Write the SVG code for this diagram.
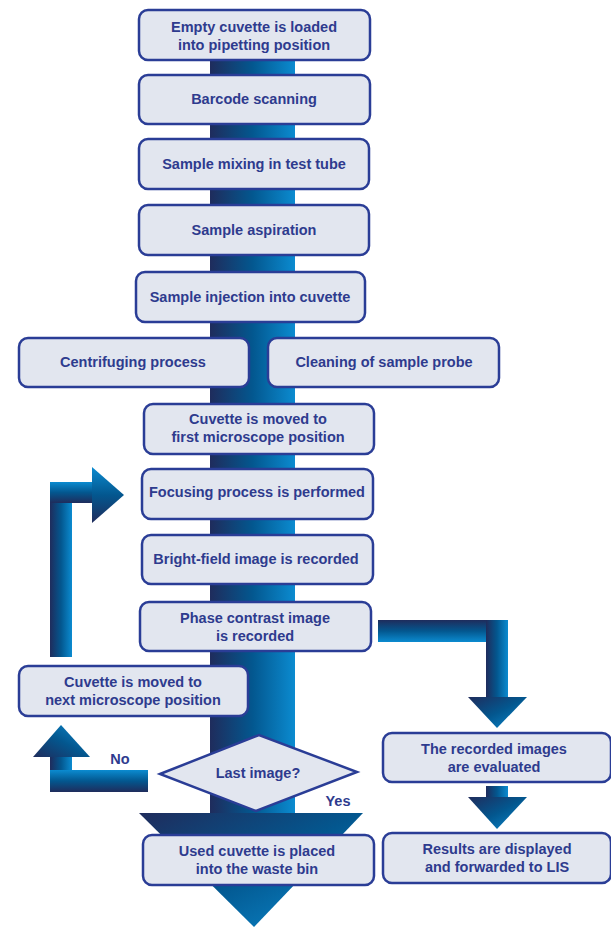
<svg xmlns="http://www.w3.org/2000/svg" width="611" height="927" viewBox="0 0 611 927">
<defs>
<linearGradient id="gh" x1="0" y1="0" x2="1" y2="0">
<stop offset="0" stop-color="#1f2c5c"/><stop offset="0.5" stop-color="#03578f"/><stop offset="1" stop-color="#0b8bd0"/>
</linearGradient>
<linearGradient id="gv" x1="0" y1="0" x2="0" y2="1">
<stop offset="0" stop-color="#1f2c5c"/><stop offset="0.5" stop-color="#03578f"/><stop offset="1" stop-color="#0b8bd0"/>
</linearGradient>
<linearGradient id="gvr" x1="0" y1="1" x2="0" y2="0">
<stop offset="0" stop-color="#1f2c5c"/><stop offset="0.5" stop-color="#03578f"/><stop offset="1" stop-color="#0b8bd0"/>
</linearGradient>
<linearGradient id="gd" x1="0" y1="0" x2="1" y2="1">
<stop offset="0" stop-color="#1f2c5c"/><stop offset="0.5" stop-color="#03578f"/><stop offset="1" stop-color="#0b8bd0"/>
</linearGradient>
<linearGradient id="gd2" x1="0" y1="1" x2="1" y2="0">
<stop offset="0" stop-color="#1f2c5c"/><stop offset="0.5" stop-color="#03578f"/><stop offset="1" stop-color="#0b8bd0"/>
</linearGradient>
</defs>
<style>
.b{fill:#e2e6ef;stroke:#2a3d96;stroke-width:2.5}
.t{font-family:"Liberation Sans",Arial,sans-serif;font-weight:bold;font-size:14.5px;fill:#2e3b8e;text-anchor:middle}
</style>
<g id="connectors">
<rect x="210" y="30" width="85" height="785" fill="url(#gh)"/>
<polygon points="139,813 363,813 254,927" fill="url(#gd)"/>
<rect x="50" y="482" width="22" height="175" fill="url(#gh)"/>
<rect x="50" y="482" width="44" height="21" fill="url(#gvr)"/>
<polygon points="92,467 92,523 124,495" fill="url(#gvr)"/>
<rect x="50" y="752" width="22" height="40" fill="url(#gh)"/>
<rect x="50" y="770" width="98" height="22" fill="url(#gvr)"/>
<polygon points="33,757 90,757 61,725" fill="url(#gd2)"/>
<rect x="378" y="620" width="130" height="22" fill="url(#gv)"/>
<rect x="486" y="620" width="22" height="79" fill="url(#gh)"/>
<polygon points="468,697 527,697 497,728" fill="url(#gd)"/>
<rect x="486" y="786" width="22" height="12" fill="url(#gh)"/>
<polygon points="468,797 527,797 497,829" fill="url(#gd)"/>
<text class="t" x="120" y="764">No</text>
<text class="t" x="338" y="806">Yes</text>
</g>
<g id="n1"><rect class="b" x="139" y="10" width="231" height="50" rx="9"/><text class="t" x="254" y="32">Empty cuvette is loaded</text><text class="t" x="254" y="50">into pipetting position</text></g>
<g id="n2"><rect class="b" x="139" y="75" width="231" height="49" rx="9"/><text class="t" x="254" y="104">Barcode scanning</text></g>
<g id="n3"><rect class="b" x="139" y="139" width="230" height="50" rx="9"/><text class="t" x="254" y="169">Sample mixing in test tube</text></g>
<g id="n4"><rect class="b" x="139" y="205" width="230" height="50" rx="9"/><text class="t" x="254" y="235">Sample aspiration</text></g>
<g id="n5"><rect class="b" x="136" y="272" width="229" height="50" rx="9"/><text class="t" x="250" y="302">Sample injection into cuvette</text></g>
<g id="n6"><rect class="b" x="19" y="338" width="230" height="49" rx="9"/><text class="t" x="133" y="367">Centrifuging process</text></g>
<g id="n7"><rect class="b" x="268" y="338" width="231" height="49" rx="9"/><text class="t" x="384" y="367">Cleaning of sample probe</text></g>
<g id="n8"><rect class="b" x="144" y="404" width="230" height="50" rx="9"/><text class="t" x="258" y="424">Cuvette is moved to</text><text class="t" x="258" y="442">first microscope position</text></g>
<g id="n9"><rect class="b" x="142" y="469" width="231" height="50" rx="9"/><text class="t" x="257" y="497">Focusing process is performed</text></g>
<g id="n10"><rect class="b" x="142" y="535" width="231" height="49" rx="9"/><text class="t" x="256" y="564">Bright-field image is recorded</text></g>
<g id="n11"><rect class="b" x="140" y="602" width="231" height="49" rx="9"/><text class="t" x="255" y="623">Phase contrast image</text><text class="t" x="255" y="641">is recorded</text></g>
<g id="n12"><rect class="b" x="19" y="666" width="229" height="50" rx="9"/><text class="t" x="133" y="687">Cuvette is moved to</text><text class="t" x="133" y="705">next microscope position</text></g>
<g id="n13"><polygon class="b" points="160,774 259,735 357,772 256,811"/><text class="t" x="258" y="778">Last image?</text></g>
<g id="n14"><rect class="b" x="143" y="835" width="231" height="50" rx="9"/><text class="t" x="257" y="856">Used cuvette is placed</text><text class="t" x="257" y="874">into the waste bin</text></g>
<g id="n15"><rect class="b" x="383" y="733" width="228" height="49" rx="9"/><text class="t" x="494" y="754">The recorded images</text><text class="t" x="494" y="772">are evaluated</text></g>
<g id="n16"><rect class="b" x="383" y="833" width="228" height="50" rx="9"/><text class="t" x="497" y="854">Results are displayed</text><text class="t" x="497" y="872">and forwarded to LIS</text></g>
</svg>
